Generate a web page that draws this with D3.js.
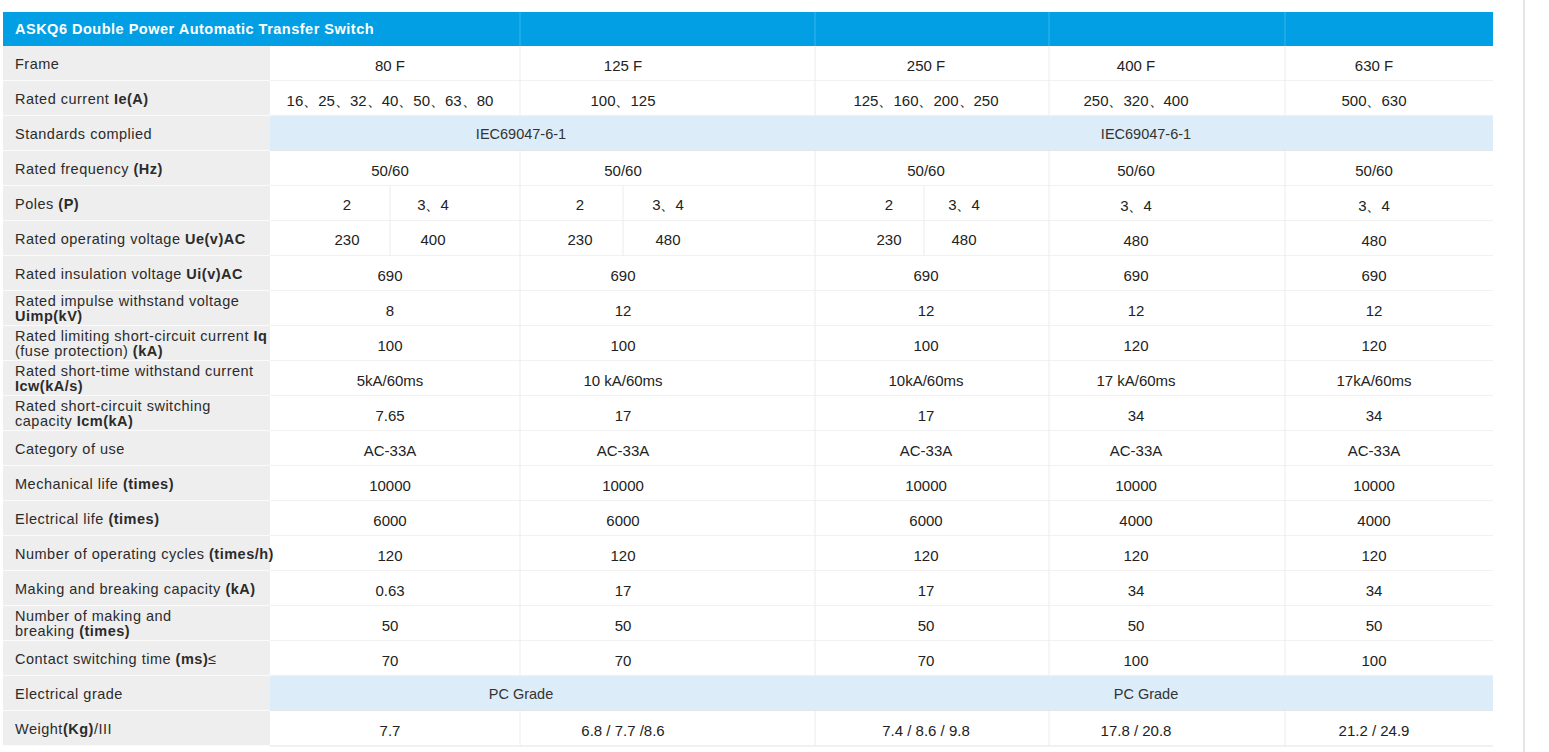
<!DOCTYPE html>
<html><head><meta charset="utf-8">
<script src="https://cdn.jsdelivr.net/npm/d3@7"></script>
<style>body{margin:0;background:#fff}svg{display:block}text{font-family:"Liberation Sans",Arial,sans-serif}</style>
</head><body><svg id="tbl"></svg>
<script>
const title = "ASKQ6 Double Power Automatic Transfer Switch";

// label: array of lines, each line = list of [text, bold]
const labels = [
  [[["Frame", 0]]],
  [[["Rated current ", 0], ["Ie(A)", 1]]],
  [[["Standards  complied", 0]]],
  [[["Rated frequency ", 0], ["(Hz)", 1]]],
  [[["Poles ", 0], ["(P)", 1]]],
  [[["Rated operating voltage ", 0], ["Ue(v)AC", 1]]],
  [[["Rated insulation voltage ", 0], ["Ui(v)AC", 1]]],
  [[["Rated impulse withstand voltage", 0]], [["Uimp(kV)", 1]]],
  [[["Rated limiting short-circuit current ", 0], ["Iq", 1]], [["(fuse protection) ", 0], ["(kA)", 1]]],
  [[["Rated short-time withstand current", 0]], [["Icw(kA/s)", 1]]],
  [[["Rated short-circuit switching", 0]], [["capacity ", 0], ["Icm(kA)", 1]]],
  [[["Category of use", 0]]],
  [[["Mechanical life ", 0], ["(times)", 1]]],
  [[["Electrical life ", 0], ["(times)", 1]]],
  [[["Number of operating cycles ", 0], ["(times/h)", 1]]],
  [[["Making and breaking capacity ", 0], ["(kA)", 1]]],
  [[["Number of making and", 0]], [["breaking ", 0], ["(times)", 1]]],
  [[["Contact switching time ", 0], ["(ms)", 1], ["≤", 0]]],
  [[["Electrical grade", 0]]],
  [[["Weight", 0], ["(Kg)", 1], ["/III", 0]]]
];

const frames = ["80 F", "125 F", "250 F", "400 F", "630 F"];
const ratedCurrent = ["16、25、32、40、50、63、80", "100、125", "125、160、200、250", "250、320、400", "500、630"];
const standards = ["IEC69047-6-1", "IEC69047-6-1"];
const frequency = ["50/60", "50/60", "50/60", "50/60", "50/60"];
const poles = [["2", "3、4"], ["2", "3、4"], ["2", "3、4"], "3、4", "3、4"];
const opVoltage = [["230", "400"], ["230", "480"], ["230", "480"], "480", "480"];
const insVoltage = ["690", "690", "690", "690", "690"];
const impulse = ["8", "12", "12", "12", "12"];
const limiting = ["100", "100", "100", "120", "120"];
const shortTime = ["5kA/60ms", "10 kA/60ms", "10kA/60ms", "17 kA/60ms", "17kA/60ms"];
const switching = ["7.65", "17", "17", "34", "34"];
const category = ["AC-33A", "AC-33A", "AC-33A", "AC-33A", "AC-33A"];
const mechLife = ["10000", "10000", "10000", "10000", "10000"];
const elecLife = ["6000", "6000", "6000", "4000", "4000"];
const cycles = ["120", "120", "120", "120", "120"];
const makeBreak = ["0.63", "17", "17", "34", "34"];
const makeTimes = ["50", "50", "50", "50", "50"];
const contactTime = ["70", "70", "70", "100", "100"];
const grade = ["PC Grade", "PC Grade"];
const weight = ["7.7", "6.8 / 7.7 /8.6", "7.4 / 8.6 / 9.8", "17.8  / 20.8", "21.2 / 24.9"];

const rows = [frames, ratedCurrent, standards, frequency, poles, opVoltage, insVoltage, impulse,
  limiting, shortTime, switching, category, mechLife, elecLife, cycles, makeBreak, makeTimes,
  contactTime, grade, weight];

// layout
const colEdges = [270, 520, 815, 1049, 1285, 1493];
const textX = [390, 623, 926, 1136, 1374];
const splitX = [390, 623, 924];
const subX = [[347, 433], [580, 668], [889, 964]];
const spanX = [521, 1146];
const tableLeft = 3, headTop = 12, headH = 34, rowH = 35;

const svg = d3.select('#tbl').attr('width', 1549).attr('height', 752);
const y = d3.scaleBand().domain(d3.range(rows.length))
  .range([headTop + headH, headTop + headH + rowH * rows.length]);

// header
svg.append('rect').attr('x', tableLeft).attr('y', headTop).attr('width', colEdges[5] - tableLeft)
  .attr('height', headH).attr('fill', '#039fe4');
colEdges.slice(1, 5).forEach(x => svg.append('line').attr('x1', x).attr('x2', x)
  .attr('y1', headTop).attr('y2', headTop + headH).attr('stroke', '#3ab3ea').attr('stroke-width', 1));
svg.append('text').attr('x', 15).attr('y', headTop + headH / 2 + 5).attr('fill', '#fff')
  .attr('font-size', 14.5).attr('font-weight', 'bold').attr('letter-spacing', 0.5).text(title);

// right faint line
svg.append('line').attr('x1', 1524).attr('x2', 1524).attr('y1', 0).attr('y2', 752)
  .attr('stroke', '#e6e6e6').attr('stroke-width', 2);

const g = svg.append('g').selectAll('g').data(rows).join('g')
  .attr('transform', (d, i) => `translate(0,${y(i)})`);

// backgrounds
g.append('rect').attr('x', tableLeft).attr('width', colEdges[0] - tableLeft).attr('height', rowH)
  .attr('fill', '#eeeeee');
g.append('rect').attr('x', colEdges[0]).attr('width', colEdges[5] - colEdges[0]).attr('height', rowH)
  .attr('fill', d => d.length === 2 ? '#dcedf9' : '#fff');
// row separators
g.append('line').attr('x1', tableLeft).attr('x2', colEdges[0]).attr('y1', rowH).attr('y2', rowH)
  .attr('stroke', '#fff').attr('stroke-width', 1.5);
g.append('line').attr('x1', colEdges[0]).attr('x2', colEdges[5]).attr('y1', rowH).attr('y2', rowH)
  .attr('stroke', '#e3e3e3');

const fs = 15;
g.each(function (d) {
  const row = d3.select(this);
  if (d.length === 2) {
    d.forEach((t, k) => row.append('text').attr('x', spanX[k]).attr('y', rowH / 2 + 5)
      .attr('text-anchor', 'middle').attr('font-size', fs - 0.5).attr('fill', '#333').text(t));
    return;
  }
  colEdges.slice(1, 5).forEach(x => row.append('line').attr('x1', x).attr('x2', x)
    .attr('y1', 0).attr('y2', rowH).attr('stroke', '#ececec'));
  d.forEach((v, k) => {
    if (Array.isArray(v)) {
      row.append('line').attr('x1', splitX[k]).attr('x2', splitX[k]).attr('y1', 0).attr('y2', rowH)
        .attr('stroke', '#ececec');
      v.forEach((t, j) => row.append('text').attr('x', subX[k][j]).attr('y', rowH / 2 + 6)
        .attr('text-anchor', 'middle').attr('font-size', fs).attr('fill', '#222').text(t));
    } else {
      row.append('text').attr('x', textX[k]).attr('y', rowH / 2 + 7)
        .attr('text-anchor', 'middle').attr('font-size', fs).attr('fill', '#222').text(v);
    }
  });
});

// labels
g.each(function (d, i) {
  const lines = labels[i];
  const row = d3.select(this);
  const lh = 15;
  const y0 = lines.length === 1 ? rowH / 2 + 5 : rowH / 2 - 3;
  lines.forEach((segs, li) => {
    const t = row.append('text').attr('x', 15).attr('y', y0 + li * lh)
      .attr('font-size', 14.5).attr('fill', '#2b2b2b').attr('letter-spacing', 0.5);
    segs.forEach(([s, b]) => t.append('tspan').attr('font-weight', b ? 'bold' : 'normal').text(s));
  });
});
</script></body></html>
